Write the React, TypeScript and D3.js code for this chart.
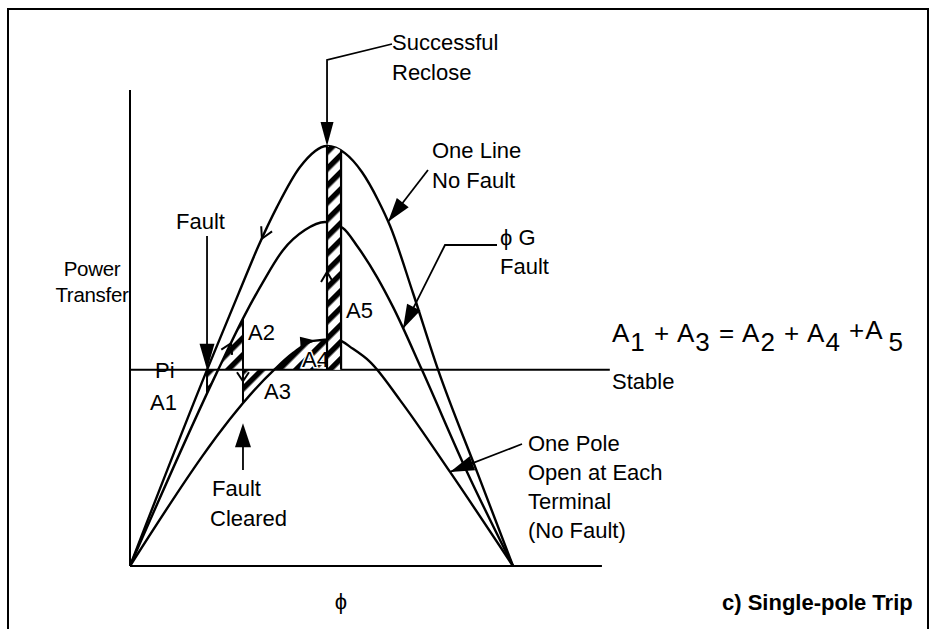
import React from 'react';
import * as d3 from 'd3';

type Pt = [number, number];

// Power–angle curves: [rotor angle (deg), transferred power (pu of the no-fault peak)]
const oneLineNoFault: Pt[] = [
  [0, 0], [36.2, 0.467], [51.7, 0.657], [60.2, 0.76], [69.1, 0.855], [79.9, 0.95], [92.6, 1.0],
  [101.0, 0.983], [109.0, 0.938], [116.6, 0.871], [122.2, 0.81], [133.0, 0.65], [144.8, 0.467],
  [163.1, 0.224], [180, 0],
];
const phaseGroundFault: Pt[] = [
  [0, 0], [41.4, 0.467], [54.0, 0.598], [62.5, 0.676], [71.9, 0.752], [82.2, 0.8], [91.6, 0.819],
  [100.0, 0.805], [107.0, 0.76], [116.1, 0.688], [123.6, 0.617], [137.2, 0.467], [158.4, 0.224],
  [180, 0],
];
const onePoleOpen: Pt[] = [
  [0, 0], [67.7, 0.467], [76.6, 0.507], [86.0, 0.536], [96.8, 0.54], [104.8, 0.517],
  [112.8, 0.486], [126.9, 0.395], [150.4, 0.224], [180, 0],
];

// Operating point and switching angles of the swing
const initialPower = 0.467;
const faultAngle = 36.2;
const clearAngle = 53.1;
const recloseAngle = 92.6;
const maxSwingAngle = 99.2;

const FONT = 'Liberation Sans, Arial, Helvetica, sans-serif';
const FS = 22;

function head(tx: number, ty: number, dx: number, dy: number, len: number, half: number) {
  const n = Math.hypot(dx, dy) || 1;
  const ux = dx / n, uy = dy / n;
  const bx = tx - ux * len, by = ty - uy * len;
  const px = -uy * half, py = ux * half;
  return `M${tx},${ty}L${bx + px},${by + py}L${bx - px},${by - py}Z`;
}

function chevron(tx: number, ty: number, dx: number, dy: number, len: number, half: number) {
  const n = Math.hypot(dx, dy) || 1;
  const ux = dx / n, uy = dy / n;
  const bx = tx - ux * len, by = ty - uy * len;
  const px = -uy * half, py = ux * half;
  return `M${bx + px},${by + py}L${tx},${ty}L${bx - px},${by - py}`;
}

export default function App() {
  const x = d3.scaleLinear().domain([0, 180]).range([130, 513]);
  const y = d3.scaleLinear().domain([0, 1]).range([566, 146]);

  const line = d3.line<Pt>().x(d => x(d[0])).y(d => y(d[1])).curve(d3.curveMonotoneX);
  const under = (c: Pt[]) =>
    d3.area<Pt>().x(d => x(d[0])).y0(y(0)).y1(d => y(d[1])).curve(d3.curveMonotoneX)(c) || '';
  const over = (c: Pt[]) =>
    d3.area<Pt>().x(d => x(d[0])).y0(y(1.4)).y1(d => y(d[1])).curve(d3.curveMonotoneX)(c) || '';
  const interp = (c: Pt[]) => d3.scaleLinear().domain(c.map(d => d[0])).range(c.map(d => d[1]));

  const topAt = interp(oneLineNoFault);
  const midAt = interp(phaseGroundFault);
  const lowAt = interp(onePoleOpen);

  const tangent = (f: (a: number) => number, a: number, sign: number): [number, number] => [
    sign * (x(a + 1) - x(a - 1)),
    sign * (y(f(a + 1)) - y(f(a - 1))),
  ];

  const yPi = y(initialPower);
  const xF = x(faultAngle), xC = x(clearAngle), xR = x(recloseAngle), xM = x(maxSwingAngle);
  const yTopLimit = y(1.2);

  // leader tips on the curves
  const tipOneLine: [number, number] = [x(121.3), y(topAt(121.3))];
  const tipGround: [number, number] = [x(128.3), y(midAt(128.3))];
  const tipPole: [number, number] = [x(150.4), y(lowAt(150.4))];
  const tipClear = y(lowAt(clearAngle)) + 11;

  const stroke = '#000';

  // trajectory direction markers
  const mTop = [x(62), y(topAt(62))];
  const dTop = tangent(topAt, 62, -1);
  const mMid = [x(47.5), y(midAt(47.5))];
  const dMid = tangent(midAt, 47.5, 1);
  const mLow = [x(87.5), y(lowAt(87.5))];
  const dLow = tangent(lowAt, 87.5, 1);

  return (
    <svg
      width={936}
      height={629}
      style={{ position: 'absolute', left: 0, top: 0, background: '#fff' }}
      fontFamily={FONT}
    >
      <defs>
        <pattern id="hatch" width={12} height={12} patternUnits="userSpaceOnUse" patternTransform="rotate(45)">
          <rect width={12} height={12} fill="#fff" />
          <rect width={5.5} height={12} fill="#000" />
        </pattern>
        <clipPath id="under-top"><path d={under(oneLineNoFault)} /></clipPath>
        <clipPath id="under-mid"><path d={under(phaseGroundFault)} /></clipPath>
        <clipPath id="over-mid"><path d={over(phaseGroundFault)} /></clipPath>
        <clipPath id="under-low"><path d={under(onePoleOpen)} /></clipPath>
        <clipPath id="over-low"><path d={over(onePoleOpen)} /></clipPath>
      </defs>

      <rect x={0} y={0} width={936} height={629} fill="#fff" />
      {/* frame */}
      <rect x={8} y={9} width={920} height={660} fill="none" stroke={stroke} strokeWidth={2} />

      {/* equal-area regions */}
      <g clipPath="url(#over-mid)">
        <rect x={xF} y={yPi} width={xC - xF} height={y(0) - yPi} fill="url(#hatch)" />
      </g>
      <g clipPath="url(#under-mid)">
        <rect x={xF} y={yTopLimit} width={xC - xF} height={yPi - yTopLimit} fill="url(#hatch)" />
      </g>
      <g clipPath="url(#over-low)">
        <rect x={xC} y={yPi} width={xR - xC} height={y(0) - yPi} fill="url(#hatch)" />
      </g>
      <g clipPath="url(#under-low)">
        <rect x={xC} y={yTopLimit} width={xR - xC} height={yPi - yTopLimit} fill="url(#hatch)" />
      </g>

      {/* axes and initial power level */}
      <line x1={x(0)} y1={90} x2={x(0)} y2={y(0)} stroke={stroke} strokeWidth={2} />
      <line x1={x(0)} y1={y(0)} x2={x(221.8)} y2={y(0)} stroke={stroke} strokeWidth={2} />
      <line x1={x(0)} y1={yPi} x2={x(225.5)} y2={yPi} stroke={stroke} strokeWidth={2} />

      {/* power-angle curves */}
      {[oneLineNoFault, phaseGroundFault, onePoleOpen].map((c, i) => (
        <path key={i} d={line(c) || ''} fill="none" stroke={stroke} strokeWidth={2.4} />
      ))}

      {/* switching jumps */}
      <g clipPath="url(#over-mid)">
        <line x1={xF} y1={yPi} x2={xF} y2={y(0)} stroke={stroke} strokeWidth={2} />
      </g>
      <g clipPath="url(#under-mid)">
        <g clipPath="url(#over-low)">
          <line x1={xC} y1={yTopLimit} x2={xC} y2={y(0)} stroke={stroke} strokeWidth={2} />
        </g>
      </g>

      {/* area labels */}
      <g fontSize={FS} fill="#000" stroke="#fff" strokeWidth={3} paintOrder="stroke">
        <text x={150} y={410}>A1</text>
        <text x={248} y={340}>A2</text>
        <text x={264} y={399}>A3</text>
        <text x={302} y={367}>A4</text>
        <text x={346} y={318}>A5</text>
      </g>

      {/* reclose strip */}
      <g clipPath="url(#under-top)">
        <rect x={xR} y={yTopLimit} width={xM - xR} height={yPi - yTopLimit} fill="url(#hatch)" />
        <line x1={xR} y1={yTopLimit} x2={xR} y2={yPi} stroke={stroke} strokeWidth={2.2} />
        <line x1={xM} y1={yTopLimit} x2={xM} y2={yPi} stroke={stroke} strokeWidth={2.2} />
      </g>

      {/* trajectory direction marks */}
      <g fill="none" stroke={stroke} strokeWidth={2}>
        <path d={chevron(mTop[0], mTop[1], dTop[0], dTop[1], 11, 6)} />
        <path d={chevron(mMid[0], mMid[1], dMid[0], dMid[1], 10, 6)} />
        <path d={chevron(xC, y(0.44), 0, 1, 9, 6)} />
        <path d={chevron(xR, y(0.7), 0, -1, 10, 6)} />
      </g>
      <path d={head(mLow[0], mLow[1], dLow[0], dLow[1], 16, 5)} fill={stroke} />

      {/* leaders */}
      <g stroke={stroke} strokeWidth={1.8} fill="none">
        <path d={`M392,44L${xR},60L${xR},${y(1) - 18}`} />
        <path d={`M${xF},236L${xF},${yPi - 20}`} />
        <path d={`M428,170L${tipOneLine[0]},${tipOneLine[1]}`} />
        <path d={`M497,245L445,245L${tipGround[0]},${tipGround[1]}`} />
        <path d={`M522,444L${tipPole[0]},${tipPole[1]}`} />
        <path d={`M${xC},470L${xC},${tipClear + 18}`} />
      </g>
      <g fill={stroke}>
        <path d={head(xR, y(1), 0, 1, 24, 6.5)} />
        <path d={head(xF, yPi, 0, 1, 26, 7.5)} />
        <path d={head(tipOneLine[0], tipOneLine[1], tipOneLine[0] - 428, tipOneLine[1] - 170, 24, 7.5)} />
        <path d={head(tipGround[0], tipGround[1], tipGround[0] - 445, tipGround[1] - 245, 24, 7.5)} />
        <path d={head(tipPole[0], tipPole[1], tipPole[0] - 522, tipPole[1] - 444, 24, 7.5)} />
        <path d={head(xC, tipClear, 0, -1, 24, 8)} />
      </g>

      {/* text */}
      <g fontSize={FS} fill="#000">
        <text x={392} y={50}>Successful</text>
        <text x={392} y={80}>Reclose</text>
        <text x={432} y={158}>One Line</text>
        <text x={432} y={188}>No Fault</text>
        <text x={176} y={229}>Fault</text>
        <text x={500} y={245}>ϕ G</text>
        <text x={500} y={274}>Fault</text>
        <text x={92} y={276} textAnchor="middle" fontSize={20.5} letterSpacing={-0.3}>Power</text>
        <text x={92} y={302} textAnchor="middle" fontSize={20.5} letterSpacing={-0.3}>Transfer</text>
        <text x={155} y={378}>Pi</text>
        <text x={612} y={342} fontSize={26} letterSpacing={1}>
          A<tspan dy={9}>1</tspan>
          <tspan dy={-9}> + A</tspan><tspan dy={9}>3</tspan>
          <tspan dy={-9}> = A</tspan><tspan dy={9}>2</tspan>
          <tspan dy={-9}> + A</tspan><tspan dy={9}>4</tspan>
          <tspan dy={-12}> +A</tspan><tspan dy={12} dx={5}>5</tspan>
        </text>
        <text x={612} y={389}>Stable</text>
        <text x={528} y={451}>One Pole</text>
        <text x={528} y={480}>Open at Each</text>
        <text x={528} y={509}>Terminal</text>
        <text x={528} y={538}>(No Fault)</text>
        <text x={212} y={496}>Fault</text>
        <text x={210} y={526}>Cleared</text>
        <text x={341} y={609} textAnchor="middle">ϕ</text>
        <text x={722} y={610} fontWeight="bold" fontSize={22}>c) Single-pole Trip</text>
      </g>
    </svg>
  );
}
